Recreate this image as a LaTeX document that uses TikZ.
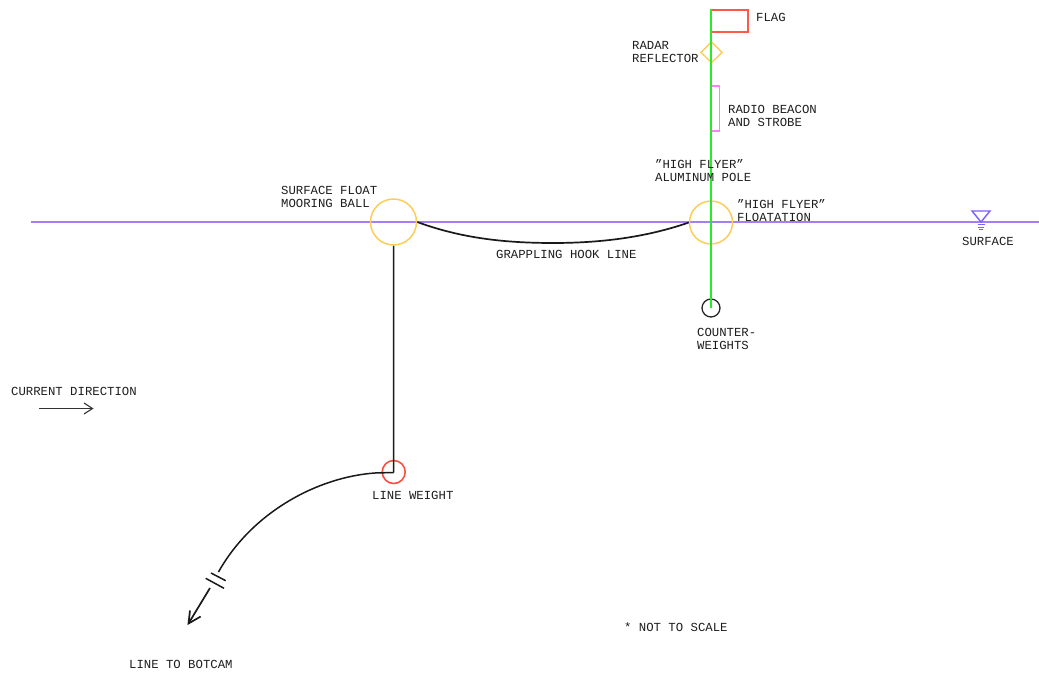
\documentclass[tikz,border=0pt]{standalone}
\usepackage{fontspec}
\setmainfont{Liberation Mono}
\definecolor{surf}{RGB}{165,125,250}
\definecolor{txtc}{RGB}{30,30,30}
\definecolor{floatc}{RGB}{252,205,90}
\definecolor{flagc}{RGB}{250,90,70}
\definecolor{beaconc}{RGB}{250,130,250}
\definecolor{poleg}{RGB}{40,235,40}
\tikzset{
  lbl/.style={font=\fontsize{12.3}{13}\selectfont,text=txtc,inner sep=0pt,anchor=west,align=left},
  blk/.style={draw=black!90,line width=1.7pt},
  floatball/.style={circle,draw=floatc,line width=1.5pt,inner sep=0pt,fill=none}
}
\begin{document}
\begin{tikzpicture}[x=1pt,y=-1pt]
\useasboundingbox (0,0) rectangle (1039,677);
\fill[white] (0,0) rectangle (1039,677);
% surface
\coordinate (sl) at (31,222);
\coordinate (sr) at (1039,222);
\draw[surf,line width=1.5pt] (sl) -- (sr);
% floats
\node[floatball,minimum size=46pt] (ball) at (393.5,222) {};
\node[floatball,minimum size=43pt] (hf) at (711,222.5) {};
% counterweight
\node[circle,draw=black!85,line width=1.3pt,minimum size=18pt,inner sep=0pt] (cw) at (711,308) {};
% flag
\node[draw=flagc,line width=1.5pt,minimum width=37pt,minimum height=22pt,inner sep=0pt] (flag) at (729.5,21) {};
% radar reflector
\draw[floatc,line width=1.4pt] (701,52.3) -- (711.5,42) -- (722,52.3) -- (711.5,62.7) -- cycle;
% beacon
\node[draw=beaconc,line width=1.4pt,minimum width=8pt,minimum height=45pt,inner sep=0pt] (beacon) at (715.5,108.5) {};
% pole
\coordinate (poletop) at (711,9);
\draw[poleg,line width=2.7pt] (poletop) -- (cw.center);
% surface symbol
\draw[surf!75!blue,line width=1.4pt,line join=miter] (972,211) -- (990,211) -- (981,222) -- cycle;
\draw[surf!75!blue,line width=.9pt] (977.5,224.5) -- (984.5,224.5) (978,227) -- (984,227) (979,229.5) -- (983,229.5);
% grappling line
\draw[blk] (ball.east) .. controls (458,237) and (500,243) .. (553,243) .. controls (606,243) and (650,236) .. (hf.west);
% line weight
\node[circle,draw=flagc!90!red,line width=1.6pt,minimum size=23pt,inner sep=0pt] (weight) at (393.7,472) {};
\coordinate (corner) at (393.7,472.5);
\draw[blk,line width=1.5pt] (ball.south) -- (corner);
\coordinate (brk) at (218.5,572);
\draw[blk,line width=1.5pt] (corner) -- (375,473) .. controls (318,477) and (252,512) .. (brk);
\draw[blk,line width=1.5pt] (211,573) -- (225.7,580.7) (205.7,578.3) -- (224,588.3);
\coordinate (tail) at (210,588);
\coordinate (tip) at (188.5,623.5);
\draw[blk] (tail) -- (tip);
\draw[blk] (190,610.5) -- (tip) -- (200.7,616.5);
% current
\coordinate (ca) at (39,408.5);
\coordinate (cb) at (92.5,408.5);
\draw[black!80,line width=1.1pt] (ca) -- (cb);
\draw[black!80,line width=1.1pt] (84,403) -- (cb) -- (84,414);
% labels
\node[lbl] (t1) at (756,17.5) {FLAG};
\node[lbl] (t2) at (632,52) {RADAR\\REFLECTOR};
\node[lbl] (t3) at (728,116) {RADIO BEACON\\AND STROBE};
\node[lbl] (t4) at (655,170.5) {\char34 HIGH FLYER\char34\\ALUMINUM POLE};
\node[lbl] (t5) at (737,211) {\char34 HIGH FLYER\char34\\FLOATATION};
\node[lbl] (t6) at (281,197) {SURFACE FLOAT\\MOORING BALL};
\node[lbl] (t7) at (962,241.5) {SURFACE};
\node[lbl] (t8) at (496,254) {GRAPPLING HOOK LINE};
\node[lbl] (t9) at (697,339) {COUNTER-\\WEIGHTS};
\node[lbl] (t10) at (11,391) {CURRENT DIRECTION};
\node[lbl] (t11) at (372,495) {LINE WEIGHT};
\node[lbl] (t12) at (129,664.5) {LINE TO BOTCAM};
\node[lbl] (t13) at (624,627.5) {* NOT TO SCALE};
\end{tikzpicture}
\end{document}
